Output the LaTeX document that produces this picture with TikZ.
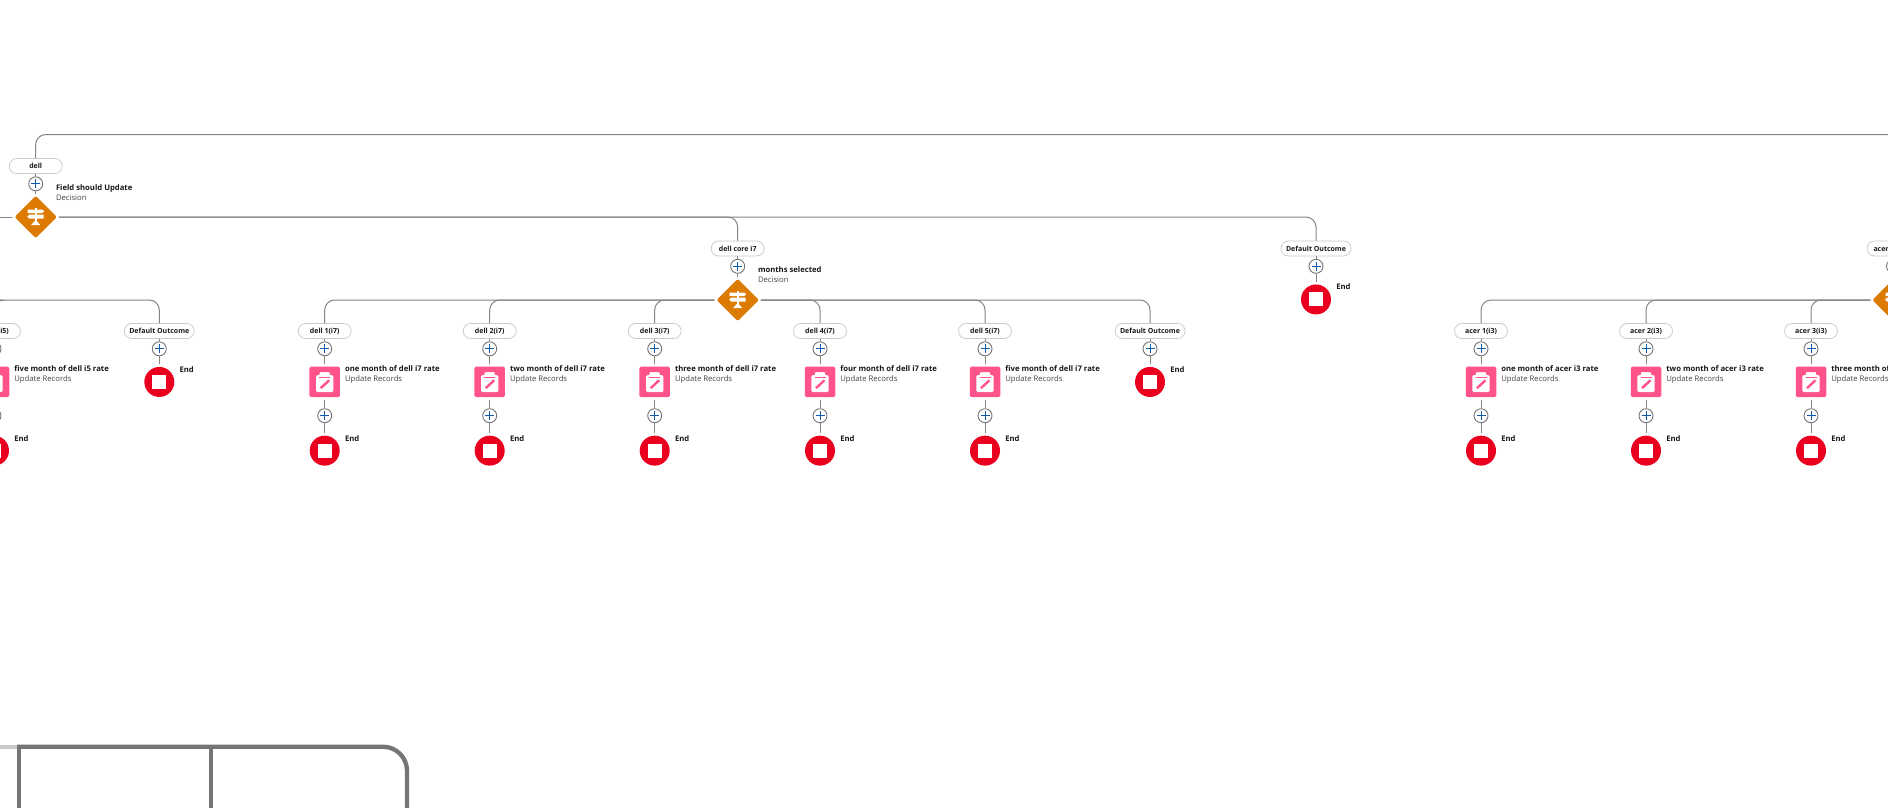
\documentclass[tikz,border=0pt]{standalone}
\usepackage{fontspec}
\setmainfont{Open Sans}
\usetikzlibrary{positioning,calc,shapes.geometric}
\definecolor{wirecol}{HTML}{858585}
\definecolor{rimcol}{HTML}{C9C9C9}
\definecolor{btncol}{HTML}{747474}
\definecolor{pluscol}{HTML}{0B5CAB}
\definecolor{decisioncol}{HTML}{DD7A01}
\definecolor{recordcol}{HTML}{FF538A}
\definecolor{endcol}{HTML}{EA001E}
\definecolor{inkcol}{HTML}{181818}
\definecolor{subcol}{HTML}{444444}
\definecolor{framecol}{HTML}{757575}
\tikzset{
  wire/.style={draw=wirecol,line width=1pt,rounded corners=10pt},
  outcome/.style={draw=rimcol,fill=white,rounded corners=7.5pt,line width=.7pt,minimum height=15pt,
    inner sep=0pt,text=inkcol,font=\fontsize{7}{9}\selectfont\bfseries},
  addbtn/.style={circle,draw=btncol,fill=white,line width=.9pt,minimum size=14pt,inner sep=0pt,
    path picture={\draw[pluscol,line width=1pt] ($(path picture bounding box.center)+(-4.5pt,0)$) -- ($(path picture bounding box.center)+(4.5pt,0)$)
      ($(path picture bounding box.center)+(0,-4.5pt)$) -- ($(path picture bounding box.center)+(0,4.5pt)$);}},
  decision/.style={diamond,fill=decisioncol,rounded corners=1.5pt,minimum width=43.5pt,minimum height=43.5pt,inner sep=0pt,outer sep=1.5pt},
  recordbox/.style={rectangle,fill=recordcol,rounded corners=1.5pt,minimum size=30.5pt,inner sep=0pt,outer sep=2.5pt},
  endbox/.style={circle,fill=endcol,minimum size=30pt,inner sep=0pt,outer sep=2.5pt},
  caption/.style={inner sep=0pt,outer sep=0pt,align=left,text=inkcol,anchor=north west,
    font=\fontsize{7.7}{10}\selectfont\bfseries},
  signmark/.pic={
    \fill[white] (-1,-9) rectangle (1,5);
    \fill[white] (-8,-7.5) -- (6.5,-7.5) -- (8.5,-5.7) -- (6.5,-4) -- (-8,-4) -- cycle;
    \fill[white] (8,-2.3) -- (-6.5,-2.3) -- (-8.5,-0.4) -- (-6.5,1.5) -- (8,1.5) -- cycle;
    \fill[white] (-1,4) -- (1,4) -- (4.5,8) -- (-4.5,8) -- cycle;
  },
  clipmark/.pic={
    \fill[white,rounded corners=1.5pt] (-8.7,-6.7) rectangle (8.7,10.3);
    \draw[white,fill=white,rounded corners=1pt] (-5,-9.5) rectangle (5,-5);
    \draw[recordcol,line width=.8pt] (-5.5,-4.6) -- (5.5,-4.6);
    \draw[recordcol,line width=2.4pt] (-4,6.3) -- (4.5,-1.5);
  },
  stopmark/.pic={\fill[white] (-7,-7) rectangle (7,7);},
}
\newcommand{\subline}[1]{{\mdseries\color{subcol}#1}}
\begin{document}
\begin{tikzpicture}[x=1pt,y=-1pt]
    \clip (0,0) rectangle (1888,807);
    \fill[white] (0,0) rectangle (1888,807);
    \coordinate (topend) at (1892,134.5);
    \coordinate (leftupper) at (-4,217);
    \coordinate (leftlower) at (-4,300);
    % first decision
    \node[outcome,minimum width=53pt] (dell) at (35.7,166) {dell};
    \node[addbtn,below=2.5pt of dell] (dellbtn) {};
    \node[decision] (field) at (35.7,217) {};
    \pic at (field) {signmark};
    \node[caption] (fieldtxt) at (56,184.5) {Field should Update\\\subline{Decision}};
    \draw[wire] (dell.north) |- (topend);
    \draw[wire] (dell) -- (dellbtn);
    \draw[wire] (dellbtn) -- (field);
    \draw[wire] (field.west) -- (leftupper);
    % dell core i7
    \node[outcome,minimum width=53pt] (corei7) at (737.7,248.5) {dell core i7};
    \node[addbtn,below=2.5pt of corei7] (corei7btn) {};
    \node[decision] (monthsi7) at (737.7,300) {};
    \pic at (monthsi7) {signmark};
    \node[caption] (monthsi7txt) at (758,266.5) {months selected\\\subline{Decision}};
    \draw[wire] (field.east) -| (corei7.north);
    \draw[wire] (corei7) -- (corei7btn);
    \draw[wire] (corei7btn) -- (monthsi7);
    % acer core i3
    \node[outcome,minimum width=53pt] (corei3) at (1893.5,248.5) {acer core i3};
    \node[addbtn,below=2.5pt of corei3] (corei3btn) {};
    \node[decision] (monthsi3) at (1893.5,300) {};
    \pic at (monthsi3) {signmark};
    \draw[wire] (corei3) -- (corei3btn);
    \draw[wire] (corei3btn) -- (monthsi3);
    % default outcomes
    \foreach \nm/\xpos/\ypos/\src in {defa/159.3/331/leftlower,defb/1150/331/monthsi7.east,defc/1316/248.5/field.east} {
      \node[outcome,minimum width=70pt] (\nm) at (\xpos,\ypos) {Default Outcome};
      \node[addbtn,below=2.5pt of \nm] (\nm btn) {};
      \node[endbox,below=8.2pt of \nm btn] (\nm end) {};
      \pic at (\nm end) {stopmark};
      \node[caption] (\nm txt) at ($(\nm end)+(20.3,-15.5)$) {End};
      \draw[wire] (\src) -| (\nm.north);
      \draw[wire] (\nm) -- (\nm btn);
      \draw[wire] (\nm btn) -- (\nm end);
    }
    % update records columns
    \foreach \nm/\xpos/\src/\lbl/\ttl in {
      dfive/-6/leftlower/dell 5(i5)/five month of dell i5 rate,
      sone/324.7/monthsi7.west/dell 1(i7)/one month of dell i7 rate,
      stwo/489.7/monthsi7.west/dell 2(i7)/two month of dell i7 rate,
      sthree/654.7/monthsi7.west/dell 3(i7)/three month of dell i7 rate,
      sfour/820/monthsi7.east/dell 4(i7)/four month of dell i7 rate,
      sfive/985/monthsi7.east/dell 5(i7)/five month of dell i7 rate,
      aone/1481/monthsi3.west/acer 1(i3)/one month of acer i3 rate,
      atwo/1646/monthsi3.west/acer 2(i3)/two month of acer i3 rate,
      athree/1811/monthsi3.west/acer 3(i3)/three month of acer i3 rate} {
      \node[outcome,minimum width=53pt] (\nm) at (\xpos,331) {\lbl};
      \node[addbtn,below=2.5pt of \nm] (\nm btn) {};
      \node[recordbox,below=7.8pt of \nm btn] (\nm rec) {};
      \pic at (\nm rec) {clipmark};
      \node[addbtn,below=8.7pt of \nm rec] (\nm add) {};
      \node[endbox,below=10pt of \nm add] (\nm end) {};
      \pic at (\nm end) {stopmark};
      \node[caption] (\nm txt) at ($(\nm rec)+(20.3,-16)$) {\ttl\\\subline{Update Records}};
      \node[caption] (\nm endtxt) at ($(\nm end)+(20.3,-15.5)$) {End};
      \draw[wire] (\src) -| (\nm.north);
      \draw[wire] (\nm) -- (\nm btn);
      \draw[wire] (\nm btn) -- (\nm rec);
      \draw[wire] (\nm rec) -- (\nm add);
      \draw[wire] (\nm add) -- (\nm end);
    }
    % window frame at the bottom
    \coordinate (frameleft) at (0,746.7);
    \coordinate (framea) at (19,746.7);
    \coordinate (frameb) at (211,746.7);
    \coordinate (framec) at (407,815);
    \draw[rimcol,line width=4.3pt] (frameleft) -- (framea);
    \draw[framecol,line width=4.3pt,rounded corners=24pt] (17,746.7) -| (framec);
    \draw[framecol,line width=4.3pt] (framea) -- (19,815);
    \draw[framecol,line width=4.3pt] (frameb) -- (211,815);
\end{tikzpicture}
\end{document}
